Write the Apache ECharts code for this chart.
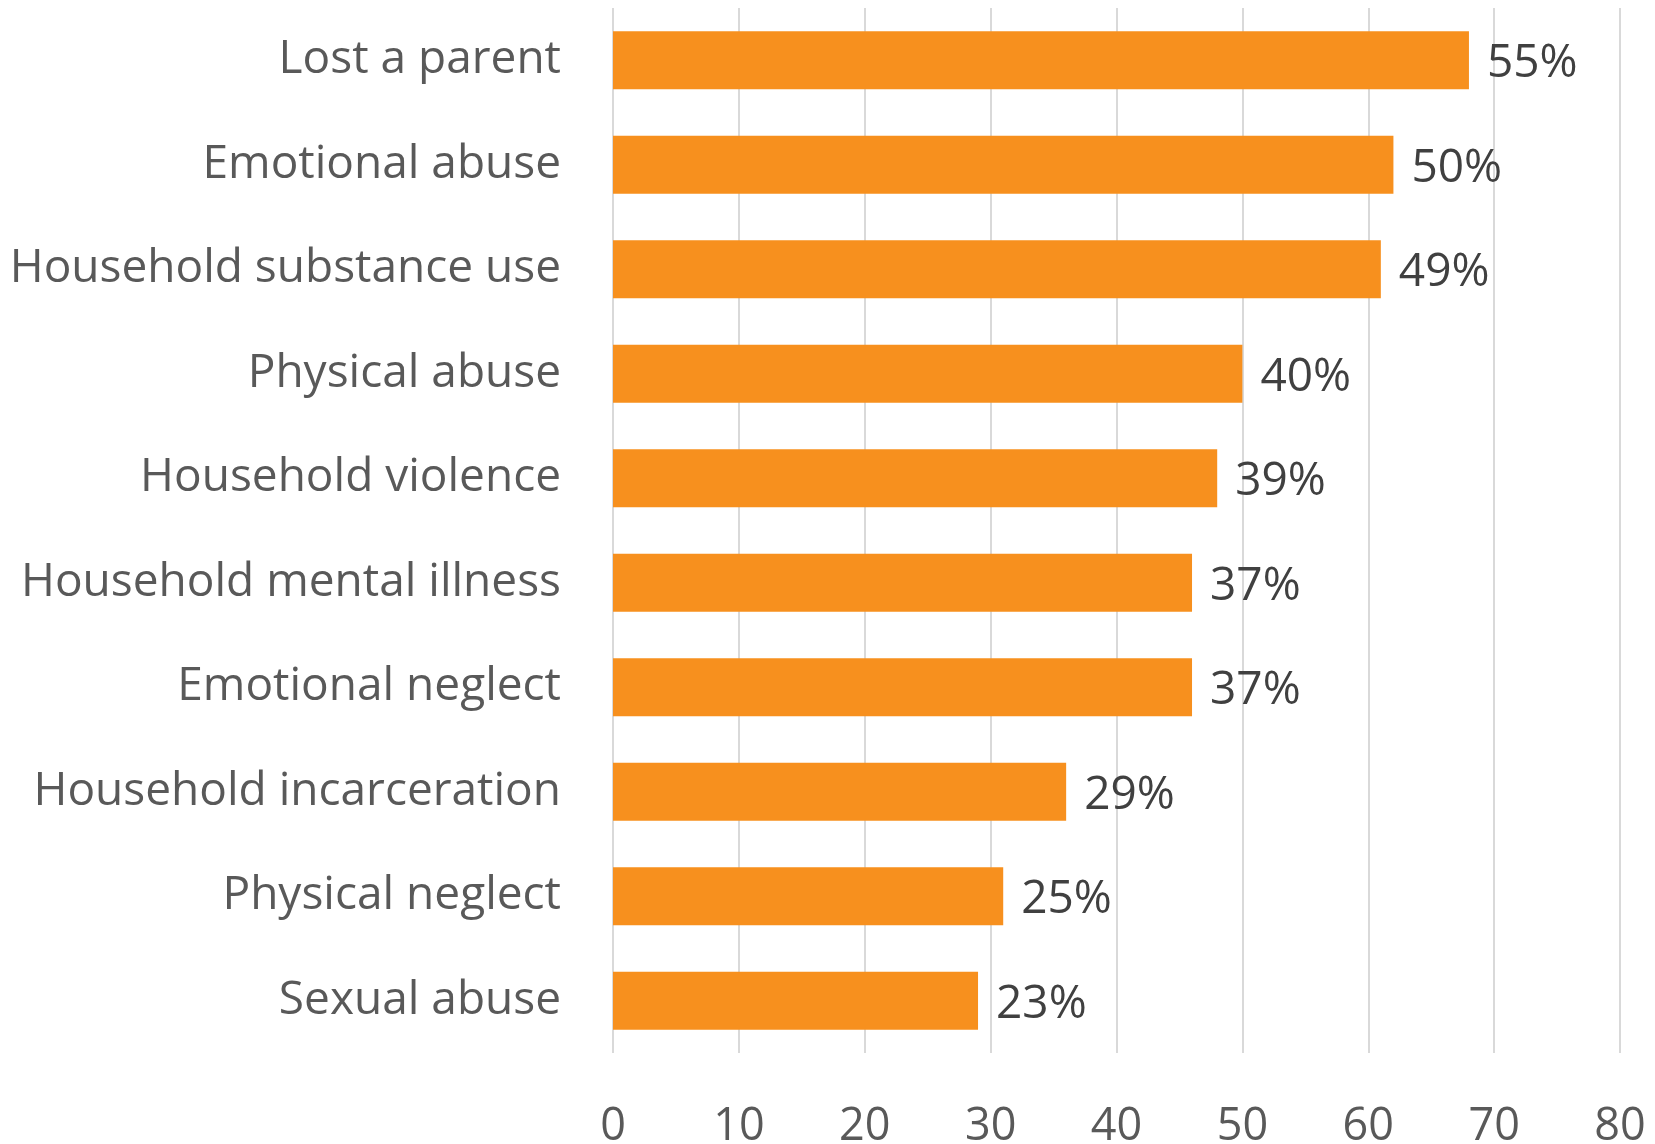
<!DOCTYPE html>
<html><head><meta charset="utf-8">
<script src="https://cdn.jsdelivr.net/npm/echarts@6/dist/echarts.min.js"></script>
<style>html,body{margin:0;padding:0;background:#fff}#c{width:1655px;height:1144px}</style>
</head><body><div id="c"></div>
<script>
const categories = ['Lost a parent','Emotional abuse','Household substance use','Physical abuse','Household violence','Household mental illness','Emotional neglect','Household incarceration','Physical neglect','Sexual abuse'];
const values = [68, 62, 61, 50, 48, 46, 46, 36, 31, 29];
const pctLabels = ['55%','50%','49%','40%','39%','37%','37%','29%','25%','23%'];
const xTicks = [0,10,20,30,40,50,60,70,80];

const chart = echarts.init(document.getElementById('c'));
const FONT = 'Open Sans';
chart.setOption({
  animation:false,
  grid:{left:613, right:35, top:8, height:1045, containLabel:false, outerBoundsMode:'none'},
  xAxis:{type:'value', min:0, max:80, interval:10,
    axisLine:{show:false}, axisTick:{show:false},
    splitLine:{show:true, lineStyle:{color:'#d9d9d9', width:2}},
    axisLabel:{fontFamily:FONT, fontSize:45, color:'#595959', margin:52,
      formatter:v=> xTicks.includes(v) ? String(v) : ''}},
  yAxis:{type:'category', data:categories, inverse:true,
    axisLine:{show:false}, axisTick:{show:false},
    axisLabel:{fontFamily:FONT, fontSize:46, color:'#595959', margin:52, padding:[8,0,0,0]}},
  series:[{type:'bar', data:values, barCategoryGap:'44.5%',
    itemStyle:{color:'#F7901E'},
    label:{show:true, position:'right', distance:18, offset:[0,4], fontFamily:FONT, fontSize:46, color:'#404040',
      formatter:p=>pctLabels[p.dataIndex]}}]
});
</script></body></html>
